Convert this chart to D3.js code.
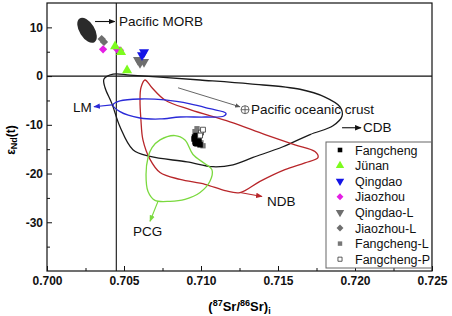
<!DOCTYPE html>
<html lang="en">
<head>
<meta charset="UTF-8">
<title>Sr-Nd isotope diagram</title>
<script src="https://d3js.org/d3.v7.min.js"></script>
<style>
  body { margin: 0; background: #fff; }
  svg { display: block; font-family: Arial, "Liberation Sans", sans-serif; }
  .tick-label { font-size: 12px; font-weight: bold; fill: #111; }
  .anno { font-size: 13.5px; fill: #111; }
  .legend text { font-size: 12.5px; fill: #111; }
</style>
</head>
<body>
<svg id="chart" width="452" height="316"></svg>
<script>
// sample data  [Sr ratio, eNd(t)]
const fangcheng  = [[0.70968,-12.2],[0.70955,-12.9],[0.70961,-13.5],[0.70974,-13.9],[0.70994,-14.1],[0.70987,-13.3],[0.70958,-12.5],[0.70965,-13.8]];
const junan      = [[0.70442,6.1],[0.70481,4.9],[0.70520,1.2]];
const qingdao    = [[0.70630,4.9],[0.70617,4.3]];
const jiaozhou   = [[0.70364,5.5],[0.70455,5.5],[0.70474,5.3]];
const qingdaoL   = [[0.70591,3.3],[0.70630,2.9],[0.70604,2.7]];
const jiaozhouL  = [[0.70355,7.6],[0.70370,7.0]];
const fangchengL = [[0.70974,-10.8],[0.70961,-11.4],[0.71013,-14.3],[0.71000,-13.7],[0.70980,-11.8]];
const fangchengP = [[0.71000,-11.6],[0.71013,-11.0],[0.70994,-12.2]];

// reference fields (closed outlines)
const cdb = [[0.70429,0.4],[0.70539,0.2],[0.70734,-0.2],[0.70994,-0.8],[0.71318,-1.6],[0.71643,-2.7],
  [0.71805,-4.3],[0.71903,-6.3],[0.71916,-8.2],[0.71857,-10.2],[0.71708,-12.0],[0.71532,-14.5],
  [0.71338,-16.7],[0.71208,-18.2],[0.71078,-18.6],[0.70909,-17.6],[0.70669,-16.5],[0.70558,-15.1],
  [0.70474,-10.4],[0.70422,-5.7],[0.70377,-2.4],[0.70370,-0.6]];
const ndb = [[0.70636,-0.8],[0.70610,-2.4],[0.70604,-4.9],[0.70610,-9.0],[0.70623,-13.1],[0.70669,-17.1],
  [0.70734,-19.8],[0.70864,-21.2],[0.71026,-22.2],[0.71156,-23.5],[0.71253,-23.9],[0.71383,-21.6],
  [0.71545,-19.2],[0.71675,-17.8],[0.71760,-16.7],[0.71740,-15.5],[0.71610,-14.1],[0.71416,-12.0],
  [0.71188,-9.4],[0.70929,-6.9],[0.70766,-4.9],[0.70682,-2.4]];
const lm = [[0.70429,-5.9],[0.70474,-5.1],[0.70604,-4.7],[0.70766,-4.9],[0.70929,-5.7],[0.71058,-6.7],
  [0.71162,-7.6],[0.71149,-8.2],[0.71026,-8.4],[0.70864,-8.4],[0.70734,-8.8],[0.70604,-8.6],[0.70474,-7.3]];
const pcg = [[0.70734,-13.1],[0.70831,-12.2],[0.70896,-13.1],[0.70948,-16.1],[0.71026,-18.0],[0.71071,-19.2],
  [0.71058,-21.6],[0.70994,-23.9],[0.70896,-25.3],[0.70799,-25.7],[0.70701,-25.5],[0.70656,-23.7],
  [0.70643,-20.2],[0.70656,-16.7],[0.70682,-14.7]];

const morb = {x: 0.7026, y: 9.4};
const oceanicCrust = {x: 0.71286, y: -6.9};
const srLine = 0.7045;

const xTicks = [0.700, 0.705, 0.710, 0.715, 0.720, 0.725];
const yTicks = [10, 0, -10, -20, -30];

const margin = {top: 3, right: 20, bottom: 45, left: 47};
const W = 452, H = 316;
const width = W - margin.left - margin.right;
const height = H - margin.top - margin.bottom;

const svg = d3.select("#chart");
const g = svg.append("g").attr("transform", `translate(${margin.left},${margin.top})`);

const x = d3.scaleLinear().domain([0.700, 0.725]).range([0, width]);
const y = d3.scaleLinear().domain([-40, 15]).range([height, 0]);

// arrow markers
const defs = svg.append("defs");
const arrowColors = {k: "#111", r: "#b8262a", b: "#2a2ad8", gr: "#7ad93e", gy: "#555"};
Object.entries(arrowColors).forEach(([k, c]) => {
  defs.append("marker").attr("id", "ah-" + k)
    .attr("viewBox", "0 0 10 10").attr("refX", 9).attr("refY", 5)
    .attr("markerWidth", 6).attr("markerHeight", 6).attr("orient", "auto")
    .append("path").attr("d", "M0,1 L10,5 L0,9 z").attr("fill", c);
});

// axes (ticks inside)
const xAxis = d3.axisBottom(x).tickValues(xTicks).tickSize(-5).tickFormat(d3.format(".3f"));
const yAxis = d3.axisLeft(y).tickValues(yTicks).tickSize(-5).tickFormat(d => d);
const xMinor = d3.axisBottom(x).tickValues([0.7025, 0.7075, 0.7125, 0.7175, 0.7225]).tickSize(-3).tickFormat("");
const yMinor = d3.axisLeft(y).tickValues([5, -5, -15, -25, -35]).tickSize(-3).tickFormat("");

g.append("g").attr("transform", `translate(0,${height})`).call(xAxis)
  .call(a => a.selectAll("text").attr("class", "tick-label").attr("dy", "0.9em"));
g.append("g").attr("transform", `translate(0,${height})`).call(xMinor);
g.append("g").call(yAxis)
  .call(a => a.selectAll("text").attr("class", "tick-label").attr("x", -4));
g.append("g").call(yMinor);
g.selectAll(".domain").remove();
g.selectAll(".tick line").attr("stroke", "#111");

// frame
g.append("rect").attr("width", width).attr("height", height)
  .attr("fill", "none").attr("stroke", "#111").attr("stroke-width", 1.2);

// reference lines
g.append("line").attr("x1", x(srLine)).attr("x2", x(srLine)).attr("y1", 0).attr("y2", height)
  .attr("stroke", "#111").attr("stroke-width", 1.1);
g.append("line").attr("x1", 0).attr("x2", width).attr("y1", y(0)).attr("y2", y(0))
  .attr("stroke", "#111").attr("stroke-width", 1.1);

// fields
const outline = d3.line().x(d => x(d[0])).y(d => y(d[1])).curve(d3.curveCatmullRomClosed.alpha(0.5));
[[cdb, "#1a1a1a"], [ndb, "#b8262a"], [lm, "#2a2ad8"], [pcg, "#7ad93e"]].forEach(([pts, c]) => {
  g.append("path").attr("d", outline(pts)).attr("fill", "none").attr("stroke", c).attr("stroke-width", 1.3);
});

// Pacific MORB ellipse
g.append("ellipse")
  .attr("transform", `translate(${x(morb.x)},${y(morb.y)}) rotate(58)`)
  .attr("rx", 14).attr("ry", 7.5).attr("fill", "#2b2b2b");

// Pacific oceanic crust symbol
const oc = g.append("g").attr("transform", `translate(${x(oceanicCrust.x)},${y(oceanicCrust.y)})`)
  .attr("stroke", "#555").attr("stroke-width", 0.9).attr("fill", "none");
oc.append("circle").attr("r", 4);
oc.append("line").attr("x1", -4).attr("x2", 4);
oc.append("line").attr("y1", -4).attr("y2", 4);

// arrows + labels
const arrows = [
  {from: [0.70312, 11.2], to: [0.70440, 11.2], c: "k"},
  {from: [0.70851, -2.4], to: [0.71253, -6.3], c: "gy"},
  {from: [0.70422, -5.9], to: [0.70305, -6.3], c: "b"},
  {from: [0.71916, -10.6], to: [0.72039, -10.6], c: "k"},
  {from: [0.71253, -23.9], to: [0.71396, -24.7], c: "r"},
  {from: [0.70721, -25.7], to: [0.70669, -29.8], c: "gr"}
];
arrows.forEach(a => {
  g.append("line")
    .attr("x1", x(a.from[0])).attr("y1", y(a.from[1]))
    .attr("x2", x(a.to[0])).attr("y2", y(a.to[1]))
    .attr("stroke", arrowColors[a.c]).attr("stroke-width", a.c === "gy" ? 0.9 : 1.1)
    .attr("marker-end", `url(#ah-${a.c})`);
});

const labels = [
  {t: "Pacific MORB", x: 0.70468, y: 11.2, anchor: "start"},
  {t: "LM", x: 0.70290, y: -6.5, anchor: "end"},
  {t: "Pacific oceanic crust", x: 0.71325, y: -6.9, anchor: "start"},
  {t: "CDB", x: 0.72052, y: -10.6, anchor: "start"},
  {t: "NDB", x: 0.71429, y: -25.7, anchor: "start"},
  {t: "PCG", x: 0.70558, y: -31.8, anchor: "start"}
];
g.selectAll(".anno").data(labels).join("text").attr("class", "anno")
  .attr("x", d => x(d.x)).attr("y", d => y(d.y)).attr("dy", "0.35em")
  .attr("text-anchor", d => d.anchor).text(d => d.t);

// symbols (diamond = square turned 45 deg)
const series = [
  {name: "Fangcheng",   data: fangcheng,  sym: d3.symbolSquare,   size: 30, fill: "#000",    stroke: "none"},
  {name: "J\u00fcnan",  data: junan,      sym: d3.symbolTriangle, size: 44, fill: "#7dfb1e", stroke: "none"},
  {name: "Qingdao",     data: qingdao,    sym: d3.symbolTriangle, size: 44, fill: "#1414e6", stroke: "none", rot: 180},
  {name: "Jiaozhou",    data: jiaozhou,   sym: d3.symbolSquare,   size: 34, fill: "#e41ee4", stroke: "none", rot: 45},
  {name: "Qingdao-L",   data: qingdaoL,   sym: d3.symbolTriangle, size: 44, fill: "#6e6e6e", stroke: "none", rot: 180},
  {name: "Jiaozhou-L",  data: jiaozhouL,  sym: d3.symbolSquare,   size: 34, fill: "#6e6e6e", stroke: "none", rot: 45},
  {name: "Fangcheng-L", data: fangchengL, sym: d3.symbolSquare,   size: 28, fill: "#777",    stroke: "none"},
  {name: "Fangcheng-P", data: fangchengP, sym: d3.symbolSquare,   size: 24, fill: "#fff",    stroke: "#333"}
];
const drawOrder = [6, 0, 7, 4, 2, 5, 3, 1];
drawOrder.forEach(i => {
  const s = series[i];
  g.append("g").selectAll("path").data(s.data).join("path")
    .attr("transform", d => `translate(${x(d[0])},${y(d[1])}) rotate(${s.rot || 0})`)
    .attr("d", d3.symbol().type(s.sym).size(s.size))
    .attr("fill", s.fill).attr("stroke", s.stroke).attr("stroke-width", 0.8);
});

// legend
const lg = g.append("g").attr("class", "legend").attr("transform", `translate(${width - 106},${height - 129})`);
lg.append("rect").attr("width", 105.5).attr("height", 126).attr("fill", "#fff").attr("stroke", "#666").attr("stroke-width", 1);
series.forEach((s, i) => {
  const row = lg.append("g").attr("transform", `translate(14,${8 + i * 15.6})`);
  row.append("path")
    .attr("transform", `rotate(${s.rot || 0})`)
    .attr("d", d3.symbol().type(s.sym).size(s.size * 0.7))
    .attr("fill", s.fill).attr("stroke", s.stroke).attr("stroke-width", 0.8);
  row.append("text").attr("x", 15).attr("dy", "0.36em").text(s.name);
});

// axis titles
svg.append("text").attr("class", "axis-title")
  .attr("x", margin.left + width / 2).attr("y", 311)
  .attr("text-anchor", "middle").attr("font-size", 13).attr("font-weight", "bold")
  .html('(<tspan font-size="9" dy="-5">87</tspan><tspan dy="5">Sr/</tspan><tspan font-size="9" dy="-5">86</tspan><tspan dy="5">Sr)</tspan><tspan font-size="9" dy="3">i</tspan>');

svg.append("text")
  .attr("transform", "translate(15,140) rotate(-90)")
  .attr("text-anchor", "middle").attr("font-size", 12).attr("font-weight", "bold")
  .html('\u03b5<tspan font-size="9" dy="2">Nd</tspan><tspan dy="-2">(t)</tspan>');
</script>
</body>
</html>
